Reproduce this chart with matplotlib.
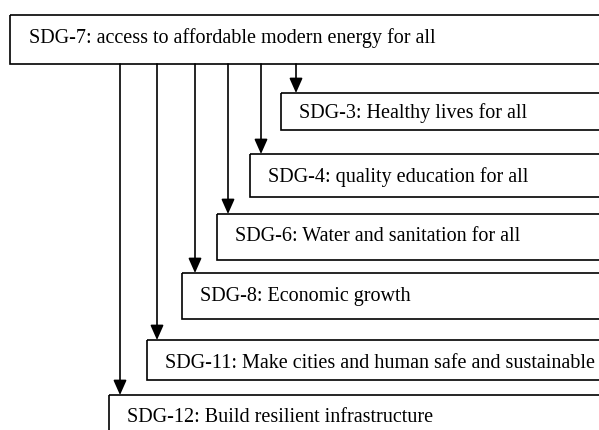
import matplotlib.pyplot as plt
from matplotlib.patches import Rectangle

plt.rcParams["font.family"] = ["Liberation Serif", "DejaVu Serif"]

# Source box
top_label = "SDG-7: access to affordable modern energy for all"
top_box = (10, 15, 64)  # left, top, bottom (pixels)
top_baseline = 43

# Target boxes, in order from top to bottom
labels = [
    "SDG-3: Healthy lives for all",
    "SDG-4: quality education for all",
    "SDG-6: Water and sanitation for all",
    "SDG-8: Economic growth",
    "SDG-11: Make cities and human safe and sustainable",
    "SDG-12: Build resilient infrastructure",
]
box_left = [281, 250, 217, 182, 147, 109]
box_top = [93, 154, 214, 273, 340, 395]
box_bottom = [130, 197, 260, 319, 380, 440]
text_baseline = [118, 182, 241, 301, 368, 422]
arrow_x = [296, 261, 228, 195, 157, 120]

W, H = 599, 430
fig = plt.figure(figsize=(W / 100, H / 100), dpi=100)
ax = fig.add_axes([0, 0, 1, 1])
ax.set_xlim(0, W)
ax.set_ylim(H, 0)
ax.axis("off")

lw = 1.2
fs = 14.5
right = W + 30  # boxes run off the right edge

# top box
l, t, b = top_box
ax.add_patch(Rectangle((l, t), right - l, b - t, fill=False, ec="black", lw=lw))
ax.text(l + 19, top_baseline, top_label, fontsize=fs, va="baseline", ha="left")

for lab, bl, bt, bb, ty, x in zip(labels, box_left, box_top, box_bottom,
                                  text_baseline, arrow_x):
    ax.add_patch(Rectangle((bl, bt), right - bl, bb - bt, fill=False, ec="black", lw=lw))
    ax.text(bl + 18, ty, lab, fontsize=fs, va="baseline", ha="left")
    ax.annotate("", xy=(x, bt), xytext=(x, b),
                arrowprops=dict(arrowstyle="-|>,head_length=0.45,head_width=0.2",
                                color="black", lw=lw, mutation_scale=20,
                                shrinkA=0, shrinkB=0))

plt.savefig("out.png", dpi=100)
